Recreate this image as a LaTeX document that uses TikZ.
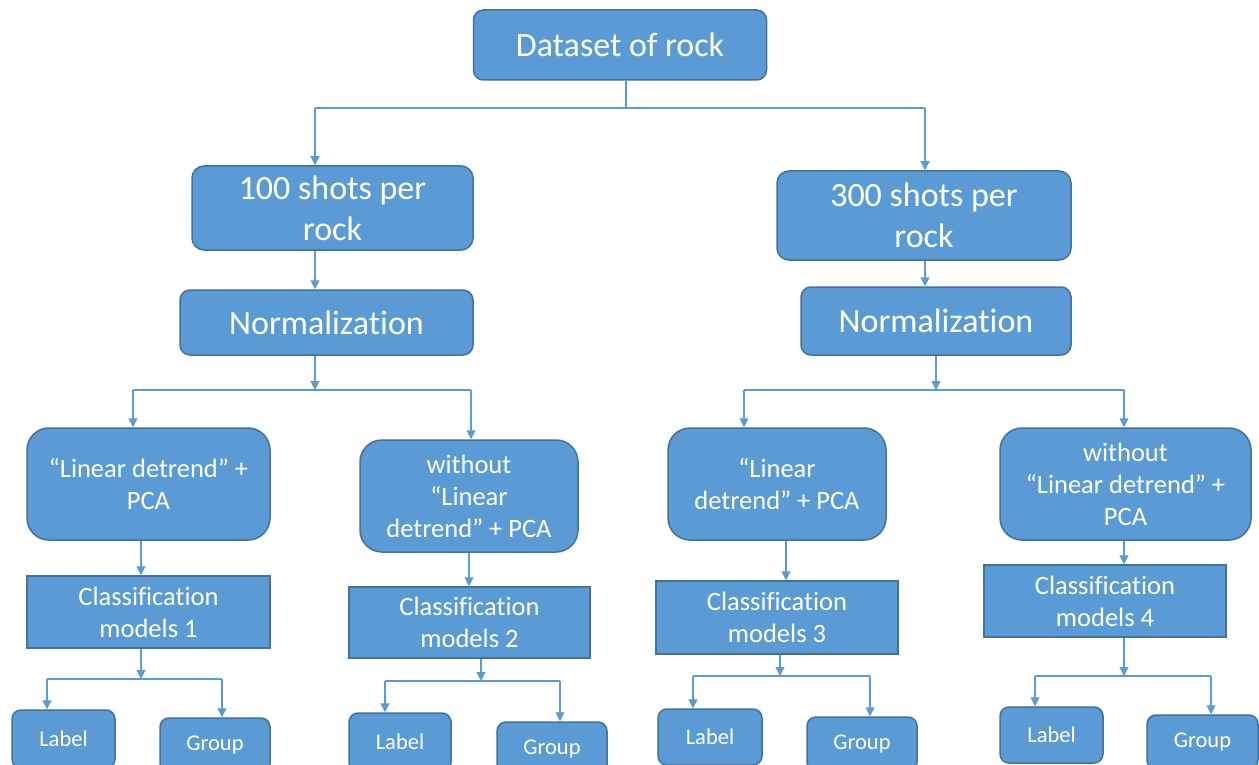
\documentclass[tikz,border=0pt]{standalone}
\usepackage{fontspec}
\setmainfont{Carlito}[Ligatures={NoCommon}]
\usetikzlibrary{arrows.meta}
\definecolor{boxfill}{HTML}{5B9BD5}
\definecolor{boxline}{HTML}{41719C}
\definecolor{linkcol}{HTML}{5B9BD5}
\tikzset{
  box/.style={draw=boxline, line width=1.5pt, fill=boxfill, text=white,
    align=center, inner sep=0pt},
  roundbox/.style={box, rounded corners=#1},
  big/.style={font=\fontsize{34}{41}\selectfont},
  mid/.style={font=\fontsize{26.5}{32}\selectfont},
  small/.style={font=\fontsize{22.5}{27}\selectfont},
  link/.style={draw=linkcol, line width=1.2pt},
  arr/.style={link, -{Triangle[width=9pt,length=9pt]}},
}
\begin{document}
\begin{tikzpicture}[x=1pt,y=-1pt]
\useasboundingbox (0,0) rectangle (1259,765);
\fill[white] (0,0) rectangle (1259,765);
\clip (0,0) rectangle (1259,765);

% top levels
\node[roundbox=10pt, big, minimum width=293pt, minimum height=70pt] (ds) at (620,45) {Dataset of rock};
\node[roundbox=12pt, big, minimum width=281pt, minimum height=84pt] (s100) at (332.5,208) {100 shots per\\rock};
\node[roundbox=12pt, big, minimum width=294pt, minimum height=89pt] (s300) at (924,215.5) {300 shots per\\rock};
\node[roundbox=10pt, big, minimum width=293pt, minimum height=65pt] (n1) at (326.5,322.5) {Normalization};
\node[roundbox=10pt, big, minimum width=270pt, minimum height=68pt] (n2) at (936,321) {Normalization};

% preprocessing variants
\node[roundbox=22pt, mid, minimum width=243pt, minimum height=112pt] (p1) at (148.5,484) {“Linear detrend” +\\PCA};
\node[roundbox=22pt, mid, minimum width=218pt, minimum height=112pt] (p2) at (469,496) {without\\“Linear\\detrend” + PCA};
\node[roundbox=22pt, mid, minimum width=218pt, minimum height=112pt] (p3) at (777,484) {“Linear\\detrend” + PCA};
\node[roundbox=22pt, mid, minimum width=251pt, minimum height=112pt] (p4) at (1125.5,484) {without\\“Linear detrend” +\\PCA};

% classifiers
\node[box, mid, minimum width=243pt, minimum height=72pt] (c1) at (148.5,612) {Classification\\models 1};
\node[box, mid, minimum width=241pt, minimum height=71pt] (c2) at (469.5,622.5) {Classification\\models 2};
\node[box, mid, minimum width=242pt, minimum height=73pt] (c3) at (777,617.5) {Classification\\models 3};
\node[box, mid, minimum width=242pt, minimum height=72pt] (c4) at (1105,601) {Classification\\models 4};

% outputs
\node[roundbox=9pt, small, minimum width=103pt, minimum height=58pt] (la1) at (63.5,739) {Label};
\node[roundbox=9pt, small, minimum width=110pt, minimum height=54pt] (gr1) at (215,745) {Group};
\node[roundbox=9pt, small, minimum width=102pt, minimum height=58pt] (la2) at (400,742) {Label};
\node[roundbox=9pt, small, minimum width=110pt, minimum height=54pt] (gr2) at (552,749) {Group};
\node[roundbox=9pt, small, minimum width=104pt, minimum height=56pt] (la3) at (710,737) {Label};
\node[roundbox=9pt, small, minimum width=110pt, minimum height=54pt] (gr3) at (862,744) {Group};
\node[roundbox=9pt, small, minimum width=103pt, minimum height=56pt] (la4) at (1051.5,735) {Label};
\node[roundbox=9pt, small, minimum width=111pt, minimum height=54pt] (gr4) at (1202.5,742) {Group};

% dataset split
\coordinate (j0) at (626,108);
\coordinate (a0l) at (315,108);
\coordinate (a0r) at (925,108);
\draw[link] (ds.south -| j0) -- (j0);
\draw[link] (a0l) -- (a0r);
\draw[arr] (a0l) -- (a0l |- s100.north);
\draw[arr] (a0r) -- (a0r |- s300.north);

% shots -> normalization
\draw[arr] (s100.south -| a0l) -- (n1.north -| a0l);
\draw[arr] (s300.south -| a0r) -- (n2.north -| a0r);

% normalization -> variants (left)
\coordinate (j1) at (315,390);
\coordinate (b1l) at (133,390);
\coordinate (b1r) at (471,390);
\draw[arr] (n1.south -| j1) -- (j1);
\draw[link] (b1l) -- (b1r);
\draw[arr] (b1l) -- (b1l |- p1.north);
\draw[arr] (b1r) -- (b1r |- p2.north);

% normalization -> variants (right)
\coordinate (j2) at (936,390);
\coordinate (b2l) at (744,390);
\coordinate (b2r) at (1124,390);
\draw[arr] (n2.south -| j2) -- (j2);
\draw[link] (b2l) -- (b2r);
\draw[arr] (b2l) -- (b2l |- p3.north);
\draw[arr] (b2r) -- (b2r |- p4.north);

% variants -> classifiers
\coordinate (v1) at (141,0);
\coordinate (v2) at (469,0);
\coordinate (v3) at (786,0);
\coordinate (v4) at (1124,0);
\draw[arr] (p1.south -| v1) -- (c1.north -| v1);
\draw[arr] (p2.south -| v2) -- (c2.north -| v2);
\draw[arr] (p3.south -| v3) -- (c3.north -| v3);
\draw[arr] (p4.south -| v4) -- (c4.north -| v4);

% classifiers -> label / group
\coordinate (k1) at (141,679);
\coordinate (k1l) at (47,679);
\coordinate (k1r) at (222,679);
\draw[arr] (c1.south -| k1) -- (k1);
\draw[link] (k1l) -- (k1r);
\draw[arr] (k1l) -- (k1l |- la1.north);
\draw[arr] (k1r) -- (k1r |- gr1.north);

\coordinate (k2) at (481,681);
\coordinate (k2l) at (385,681);
\coordinate (k2r) at (560,681);
\draw[arr] (c2.south -| k2) -- (k2);
\draw[link] (k2l) -- (k2r);
\draw[arr] (k2l) -- (k2l |- la2.north);
\draw[arr] (k2r) -- (k2r |- gr2.north);

\coordinate (k3) at (780,676);
\coordinate (k3l) at (693,676);
\coordinate (k3r) at (870,676);
\draw[arr] (c3.south -| k3) -- (k3);
\draw[link] (k3l) -- (k3r);
\draw[arr] (k3l) -- (k3l |- la3.north);
\draw[arr] (k3r) -- (k3r |- gr3.north);

\coordinate (k4) at (1124,676);
\coordinate (k4l) at (1035,676);
\coordinate (k4r) at (1211,676);
\draw[arr] (c4.south -| k4) -- (k4);
\draw[link] (k4l) -- (k4r);
\draw[arr] (k4l) -- (k4l |- la4.north);
\draw[arr] (k4r) -- (k4r |- gr4.north);
\end{tikzpicture}
\end{document}
